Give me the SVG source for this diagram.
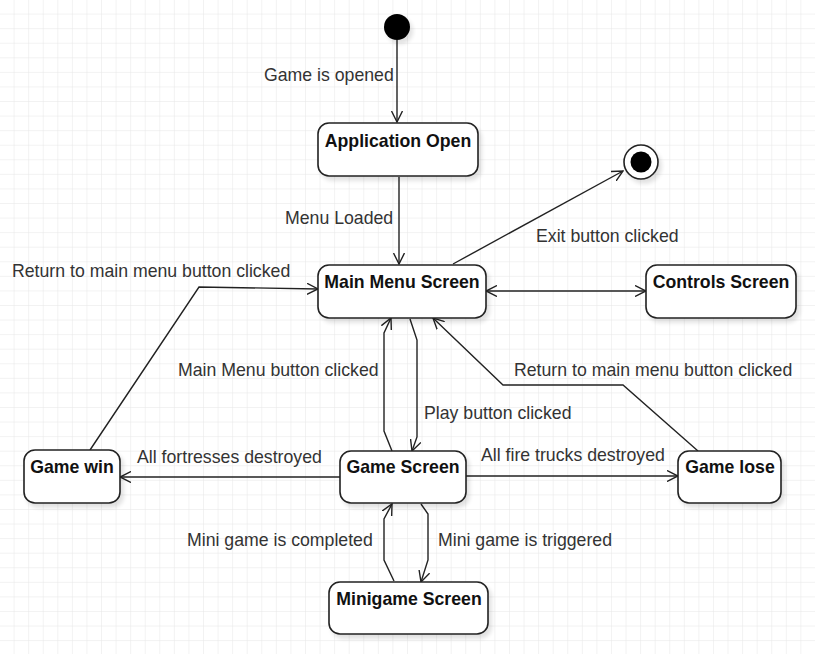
<svg xmlns="http://www.w3.org/2000/svg" width="815" height="654" viewBox="0 0 815 654">
<defs>
<pattern id="grid" x="0" y="0" width="14.57" height="14.57" patternUnits="userSpaceOnUse">
<path d="M14.57 0 V14.57 M0 14.57 H14.57" fill="none" stroke="#e6e6e6" stroke-width="1"/>
</pattern>
<marker id="arr" viewBox="0 0 12 12" refX="11" refY="6" markerWidth="12" markerHeight="12" markerUnits="userSpaceOnUse" orient="auto-start-reverse">
<path d="M0,0.5 L11,6 L0,11.5" fill="none" stroke="#222" stroke-width="1.4"/>
</marker>
<filter id="sh" x="-10%" y="-10%" width="130%" height="140%">
<feGaussianBlur in="SourceAlpha" stdDeviation="2"/>
<feOffset dx="3" dy="4" result="b"/>
<feComponentTransfer><feFuncA type="linear" slope="0.12"/></feComponentTransfer>
<feMerge><feMergeNode/><feMergeNode in="SourceGraphic"/></feMerge>
</filter>
</defs>
<style>
.st{fill:#fff;stroke:#222;stroke-width:1.6;filter:url(#sh)}
.nm{font-family:"Liberation Sans",Arial,sans-serif;font-weight:bold;font-size:17.7px;fill:#111;text-anchor:middle}
.lb{font-family:"Liberation Sans",Arial,sans-serif;font-size:17.7px;fill:#333}
.cn{fill:none;stroke:#222;stroke-width:1.4}
</style>
<rect width="815" height="654" fill="#fff"/>
<rect width="815" height="654" fill="url(#grid)"/>

<g id="connectors">
<path class="cn" d="M397,40 V122" marker-end="url(#arr)"/>
<path class="cn" d="M399,177 V264" marker-end="url(#arr)"/>
<path class="cn" d="M453,264 L623,171" marker-end="url(#arr)"/>
<path class="cn" d="M486,291 H646" marker-start="url(#arr)" marker-end="url(#arr)"/>
<path class="cn" d="M90,450 L199,287 L318,289" marker-end="url(#arr)"/>
<path class="cn" d="M392,451 L384,431 V333 L391,318" marker-end="url(#arr)"/>
<path class="cn" d="M410,319 L417,340 V437 L412,451" marker-end="url(#arr)"/>
<path class="cn" d="M698,451 L623,385 H503 L433,318" marker-end="url(#arr)"/>
<path class="cn" d="M340,477 H120" marker-end="url(#arr)"/>
<path class="cn" d="M466,476 H678" marker-end="url(#arr)"/>
<path class="cn" d="M394,581 L384,560 V519 L392,504" marker-end="url(#arr)"/>
<path class="cn" d="M421,504 L428,514 V560 L421,582" marker-end="url(#arr)"/>
<text class="lb" x="264" y="81">Game is opened</text>
<text class="lb" x="285" y="224">Menu Loaded</text>
<text class="lb" x="536" y="242">Exit button clicked</text>
<text class="lb" x="12" y="277">Return to main menu button clicked</text>
<text class="lb" x="178" y="376">Main Menu button clicked</text>
<text class="lb" x="424" y="419">Play button clicked</text>
<text class="lb" x="514" y="376">Return to main menu button clicked</text>
<text class="lb" x="137" y="463">All fortresses destroyed</text>
<text class="lb" x="481" y="461">All fire trucks destroyed</text>
<text class="lb" x="187" y="546">Mini game is completed</text>
<text class="lb" x="438" y="546">Mini game is triggered</text>
</g>

<g id="initial">
<circle cx="397" cy="27" r="13" fill="#000" filter="url(#sh)"/>
</g>
<g id="final">
<circle cx="641" cy="162" r="17" fill="#fff" stroke="#222" stroke-width="1.6" filter="url(#sh)"/>
<circle cx="641" cy="162" r="10.5" fill="#000"/>
</g>
<g id="application-open">
<rect class="st" x="318" y="123" width="160" height="53" rx="11"/>
<text class="nm" x="398" y="147">Application Open</text>
</g>
<g id="main-menu">
<rect class="st" x="318" y="265" width="168" height="53" rx="11"/>
<text class="nm" x="402" y="288">Main Menu Screen</text>
</g>
<g id="controls">
<rect class="st" x="646" y="265" width="150" height="53" rx="11"/>
<text class="nm" x="721" y="288">Controls Screen</text>
</g>
<g id="game-win">
<rect class="st" x="24" y="450" width="96" height="53" rx="11"/>
<text class="nm" x="72" y="473">Game win</text>
</g>
<g id="game-screen">
<rect class="st" x="340" y="451" width="126" height="52" rx="11"/>
<text class="nm" x="403" y="473">Game Screen</text>
</g>
<g id="game-lose">
<rect class="st" x="678" y="451" width="103" height="52" rx="11"/>
<text class="nm" x="730" y="473">Game lose</text>
</g>
<g id="minigame">
<rect class="st" x="329" y="582" width="159" height="52" rx="11"/>
<text class="nm" x="409" y="605">Minigame Screen</text>
</g>
</svg>
